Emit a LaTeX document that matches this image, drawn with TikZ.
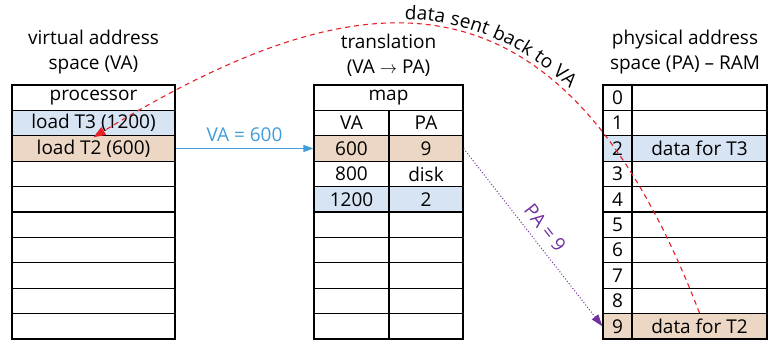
\documentclass[tikz,border=0pt]{standalone}
\usepackage{fontspec}
\setmainfont{Open Sans}
\usetikzlibrary{arrows.meta,decorations.text}
\definecolor{cellblue}{RGB}{214,228,244}
\definecolor{celltan}{RGB}{236,214,196}
\definecolor{vablue}{RGB}{65,157,218}
\definecolor{papurple}{RGB}{112,48,160}
\definecolor{backred}{RGB}{232,32,40}
\newcommand{\cellfont}{\fontsize{19}{25}\selectfont}

\begin{document}
\begin{tikzpicture}[x=1pt, y=-1pt,
	cell/.style={
		draw, line width=1.2pt, minimum height=25.4pt,
		inner sep=0pt, font=\cellfont
	},
	title/.style={font=\cellfont, align=center, inner sep=0pt},
	vaarrow/.style={-{Triangle[length=10pt,width=7pt]}, vablue, line width=1pt},
	paarrow/.style={-{Triangle[length=12pt,width=8pt]}, papurple, dotted, line width=1pt},
	backarrow/.style={-{Triangle[length=12pt,width=9pt]}, backred, dash pattern=on 5pt off 4pt, line width=1.1pt},
	]
	\useasboundingbox (0,0) rectangle (769,341);
	
	% titles
	\node[title] (vatitle) at (93.5,52)  {virtual address\\space (VA)};
	\node[title] (trtitle) at (388.5,55) {translation\\(VA $\rightarrow$ PA)};
	\node[title] (patitle) at (685,52)   {physical address\\space (PA) -- RAM};
	
	% virtual address space
	\foreach \i/\txt/\col in {0/processor/white, 1/load T3 (1200)/cellblue,
		2/load T2 (600)/celltan, 3//white, 4//white, 5//white, 6//white,
		7//white, 8//white, 9//white}
	\node[cell, fill=\col, minimum width=163pt] (va\i) at (93.5,{85+25.4*(\i+0.5)}) {\txt};
	
	% translation map
	\node[cell, minimum width=149pt] (map) at (388.5,97.7) {map};
	\foreach \i/\a/\b/\col in {1/VA/PA/white, 2/600/9/celltan, 3/800/disk/white,
		4/1200/2/cellblue, 5///white, 6///white, 7///white, 8///white, 9///white}
	{
		\node[cell, fill=\col, minimum width=75pt] (trva\i) at (351.5,{85+25.4*(\i+0.5)}) {\a};
		\node[cell, fill=\col, minimum width=74pt] (trpa\i) at (426,{85+25.4*(\i+0.5)}) {\b};
	}
	
	% physical address space
	\foreach \i/\txt/\col in {0//white, 1//white, 2/data for T3/cellblue, 3//white,
		4//white, 5//white, 6//white, 7//white, 8//white, 9/data for T2/celltan}
	{
		\node[cell, fill=\col, minimum width=29pt] (pano\i) at (617.5,{85+25.4*(\i+0.5)}) {\i};
		\node[cell, fill=\col, minimum width=135pt] (pa\i) at (699.5,{85+25.4*(\i+0.5)}) {\txt};
	}
	
	% connectors
	\draw[vaarrow] (va2.east) -- node[above=6pt, inner sep=0pt, font=\cellfont, text=vablue] {VA = 600} (trva2.west);
	\draw[paarrow] (trpa2.east) -- node[sloped, above=8pt, inner sep=0pt, font=\cellfont, text=papurple] {PA = 9} (pano9.west);
	
	\coordinate (backend) at ([yshift=-2pt]va2.north);
	\draw[backarrow] (pa9.north) .. controls (560,-50) and (360,-25) .. (backend);
	\path[decorate, decoration={text along path,
		text={|\cellfont|data sent back to VA},
		text align={left indent=335pt}, raise=5pt}]
	(backend) .. controls (360,-25) and (560,-50) .. (pa9.north);
	
\end{tikzpicture}
\end{document}
